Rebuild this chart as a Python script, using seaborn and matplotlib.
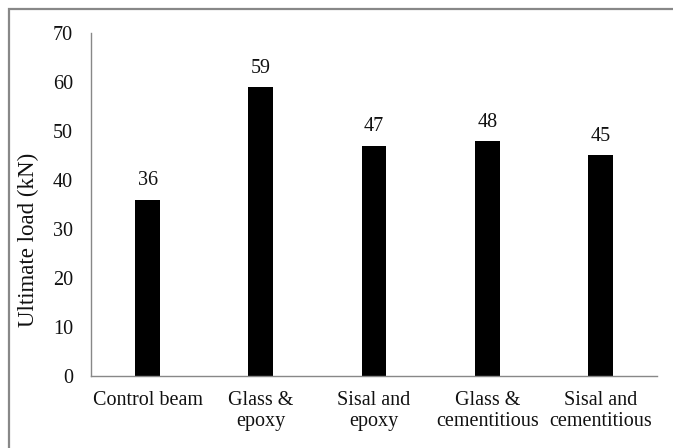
import matplotlib
matplotlib.use("Agg")
import matplotlib.pyplot as plt
import seaborn as sns
import pandas as pd
from matplotlib.patches import Rectangle

categories = ["Control beam", "Glass &\nepoxy", "Sisal and\nepoxy", "Glass &\ncementitious", "Sisal and\ncementitious"]
loads = [36, 59, 47, 48, 45]
yticks = [0, 10, 20, 30, 40, 50, 60, 70]

sns.set_theme(style="white")
plt.rcParams['font.family'] = ['Liberation Serif', 'DejaVu Serif']

df = pd.DataFrame({"cat": categories, "load": loads})

W, H = 673, 448
fig = plt.figure(figsize=(W / 100, H / 100), dpi=100)
ax = fig.add_axes([91 / W, (H - 376) / H, (657 - 91) / W, (376 - 33) / H])
sns.barplot(data=df, x="cat", y="load", color="black", width=0.22, ax=ax,
            saturation=1, linewidth=0)

for i, v in enumerate(loads):
    ax.text(i, v + 2.9, str(v), ha="center", va="baseline", fontsize=14.5, color="#111111")

ax.set_ylim(0, 70)
ax.set_yticks(yticks)
ax.set_yticklabels([str(t) for t in yticks], fontsize=14.5, color="#111111")
ax.set_xticks(range(len(categories)))
ax.set_xticklabels(categories, fontsize=14.5, color="#111111", linespacing=1.15)
ax.set_xlim(-0.5, len(categories) - 0.5)
ax.set_xlabel("")
ax.set_ylabel("Ultimate load (kN)", fontsize=16.5, color="#111111")
ax.yaxis.set_label_coords((39 - 91) / (657 - 91), (376 - 240) / (376 - 33))
ax.tick_params(axis="y", length=0, pad=13)
ax.tick_params(axis="x", length=0, pad=11)
for s in ["top", "right"]:
    ax.spines[s].set_visible(False)
for s in ["left", "bottom"]:
    ax.spines[s].set_color("#888888")
    ax.spines[s].set_linewidth(1.0)

fig.patches.append(Rectangle((8.5 / W, -0.1), 1.2, 1.1 - 9.5 / H, transform=fig.transFigure,
                             fill=False, edgecolor="#888888", linewidth=1.6))

fig.savefig("out.png", dpi=100)
